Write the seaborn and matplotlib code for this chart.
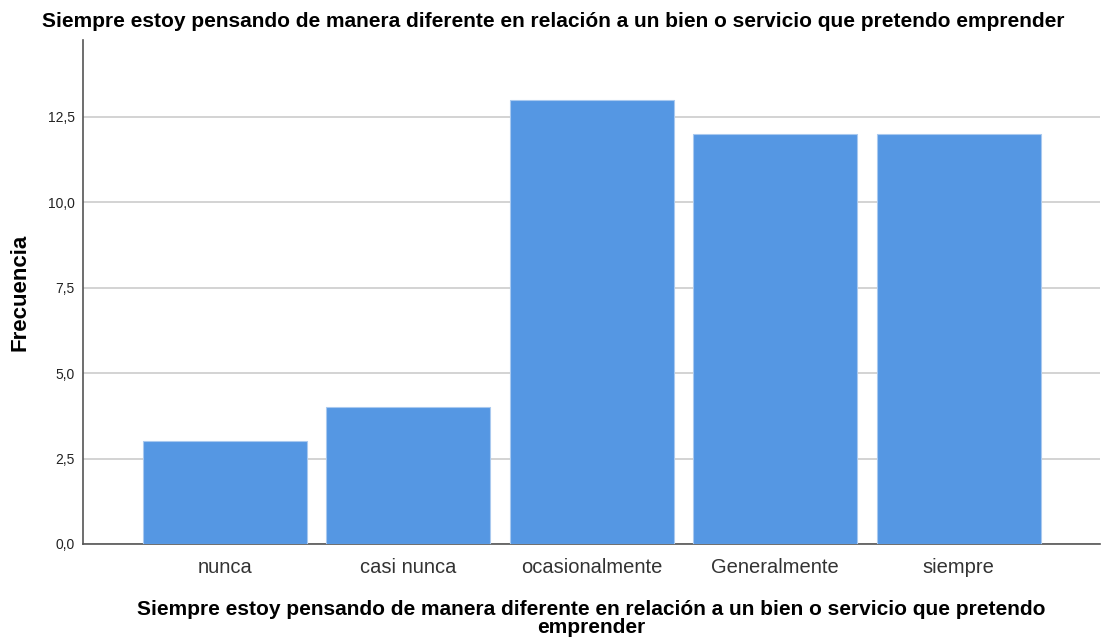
import matplotlib
matplotlib.use("Agg")
import matplotlib.pyplot as plt
import seaborn as sns
import pandas as pd

# Data
categorias = ["nunca", "casi nunca", "ocasionalmente", "Generalmente", "siempre"]
frecuencias = [3, 4, 13, 12, 12]
y_ticks = [0.0, 2.5, 5.0, 7.5, 10.0, 12.5]
y_tick_labels = ["0,0", "2,5", "5,0", "7,5", "10,0", "12,5"]

titulo = "Siempre estoy pensando de manera diferente en relación a un bien o servicio que pretendo emprender"
x_label = "Siempre estoy pensando de manera diferente en relación a un bien o servicio que pretendo\nemprender"

df = pd.DataFrame({"categoria": categorias, "frecuencia": frecuencias})

sns.set_style("white")
plt.rcParams["font.family"] = ["Liberation Sans", "DejaVu Sans"]

fig = plt.figure(figsize=(11.06, 6.39), dpi=100)
ax = fig.add_axes([0.075, 0.1487, 0.9196, 0.7887])

sns.barplot(data=df, x="categoria", y="frecuencia", color="#5597E3", saturation=1,
            width=0.894, edgecolor="#a9c9ef", linewidth=0.8, ax=ax, zorder=3)

ax.set_xlim(-0.774, 4.77)
ax.set_ylim(0, 14.75)
ax.set_yticks(y_ticks)
ax.set_yticklabels(y_tick_labels, fontsize=10)
ax.tick_params(axis="x", labelsize=14.5, length=0, pad=10, colors="#333333")
ax.tick_params(axis="y", length=0, pad=6, colors="#222222")

ax.grid(axis="y", color="#d0d0d0", linewidth=1.3, zorder=0)
ax.set_axisbelow(True)
for s in ["top", "right"]:
    ax.spines[s].set_visible(False)
for s in ["left", "bottom"]:
    ax.spines[s].set_color("#555555")
    ax.spines[s].set_linewidth(1.2)

ax.set_ylabel("Frecuencia", fontsize=16, fontweight="bold", labelpad=12, color="black")
ax.set_xlabel(x_label, fontsize=15, fontweight="bold", labelpad=17, linespacing=0.9,
              color="black")
fig.text(0.5, 0.966, titulo, ha="center", va="center", fontsize=15, fontweight="bold",
         color="black")

fig.savefig("out.png", dpi=100)
